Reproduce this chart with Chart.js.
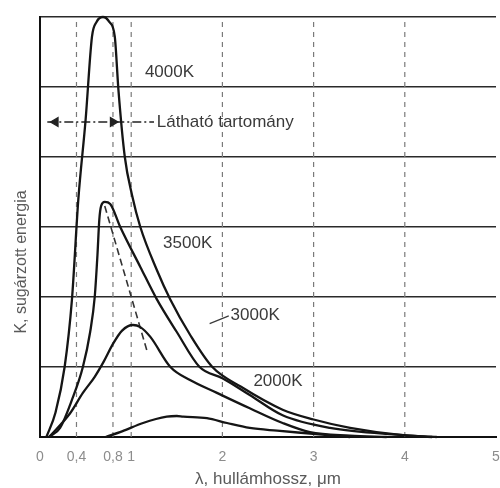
<!DOCTYPE html>
<html>
<head>
<meta charset="utf-8">
<script src="https://cdn.jsdelivr.net/npm/chart.js@4.4.0/dist/chart.umd.min.js"></script>
<style>
  html, body { margin: 0; padding: 0; background: #fff; }
</style>
</head>
<body>
<canvas id="chart" width="500" height="488"></canvas>
<script>
// tick labels on the wavelength axis
const xTicks = [0, 0.4, 0.8, 1, 2, 3, 4, 5];
const xTickText = ['0', '0,4', '0,8', '1', '2', '3', '4', '5'];
const xTitle = 'λ, hullámhossz, μm';
const yTitle = 'K, sugárzott energia';

// curve labels
const tempLabels = ['4000K', '3500K', '3000K', '2000K'];
const visibleText = 'Látható tartomány';

// 4000 K
const t4000X = [0.07, 0.17, 0.27, 0.35, 0.42, 0.50, 0.57, 0.62, 0.69, 0.76, 0.82, 0.86, 0.93, 1.01, 1.10, 1.28, 1.43, 1.65, 1.89, 2.2, 2.66, 3.0, 3.4, 3.95, 4.35];
const t4000Y = [0, 0.35, 1.0, 1.96, 3.39, 4.53, 5.72, 5.93, 6.0, 5.93, 5.72, 4.96, 4.0, 3.45, 3.0, 2.39, 1.96, 1.45, 1.0, 0.72, 0.39, 0.25, 0.13, 0.03, 0];
// 3500 K
const t3500X = [0.1, 0.22, 0.35, 0.47, 0.55, 0.6, 0.63, 0.65, 0.67, 0.71, 0.77, 0.88, 1.10, 1.28, 1.5, 1.75, 2.0, 2.3, 2.66, 3.18, 3.95, 4.3];
const t3500Y = [0, 0.13, 0.53, 1.0, 1.5, 2.0, 2.6, 3.1, 3.3, 3.36, 3.33, 3.0, 2.43, 1.97, 1.5, 1.0, 0.84, 0.6, 0.31, 0.13, 0.03, 0];
// 3000 K
const t3000X = [0.1, 0.33, 0.47, 0.6, 0.7, 0.8, 0.9, 1.02, 1.1, 1.21, 1.43, 1.65, 1.94, 2.3, 2.66, 2.96, 3.4, 3.8];
const t3000Y = [0, 0.34, 0.63, 0.86, 1.08, 1.33, 1.52, 1.6, 1.57, 1.43, 1.0, 0.81, 0.63, 0.41, 0.2, 0.07, 0.02, 0];
// 2000 K
const t2000X = [0.72, 0.9, 1.13, 1.39, 1.5, 1.57, 1.83, 2.05, 2.3, 2.6, 2.96, 3.4];
const t2000Y = [0, 0.08, 0.2, 0.29, 0.3, 0.29, 0.27, 0.2, 0.13, 0.09, 0.05, 0];

// Wien line through the peaks
const wienX = [0.71, 1.18];
const wienY = [3.3, 1.2];

// dashed vertical guides
const guideX = [0.4, 0.8, 1, 2, 3, 4];

// visible range arrow
const arrowX = [0.08, 0.17, 0.8, 1.25];
const arrowY = [4.5, 4.5, 4.5, 4.5];

const pts = (xs, ys) => xs.map((v, i) => ({ x: v, y: ys[i] }));

function curve(xs, ys) {
  return {
    data: pts(xs, ys),
    borderColor: '#151515',
    borderWidth: 2.3,
    pointRadius: 0,
    cubicInterpolationMode: 'monotone',
    fill: false,
    clip: 4,
    order: 1
  };
}

const guides = guideX.map(g => ({
  data: [{ x: g, y: 0 }, { x: g, y: 6 }],
  borderColor: '#7a7a7a',
  borderWidth: 1.2,
  borderDash: [5, 5],
  pointRadius: 0,
  order: 5
}));

// text on the plot, the y title and the 3000K leader
const notes = {
  id: 'notes',
  afterDatasetsDraw(chart) {
    const { ctx, chartArea } = chart;
    const x = chart.scales.x, y = chart.scales.y;
    const px = v => x.getPixelForValue(v);
    const py = v => y.getPixelForValue(v);
    ctx.save();
    ctx.fillStyle = '#3a3a3a';
    ctx.font = '17px "Liberation Sans", Arial, sans-serif';
    ctx.textAlign = 'left';
    ctx.textBaseline = 'middle';
    ctx.fillText(tempLabels[0], px(1.15), py(5.21));
    ctx.fillText(visibleText, px(1.28), py(4.5));
    ctx.fillText(tempLabels[1], px(1.35), py(2.77));
    ctx.fillText(tempLabels[2], px(2.09), py(1.74));
    ctx.fillText(tempLabels[3], px(2.34), py(0.79));

    // leader line
    ctx.strokeStyle = '#3a3a3a';
    ctx.lineWidth = 1.2;
    ctx.beginPath();
    ctx.moveTo(px(1.86), py(1.62));
    ctx.lineTo(px(2.07), py(1.73));
    ctx.stroke();

    // y axis title
    ctx.translate(chartArea.left - 18, py(2.5));
    ctx.rotate(-Math.PI / 2);
    ctx.textAlign = 'center';
    ctx.fillStyle = '#5a5a5a';
    ctx.font = '16px "Liberation Sans", Arial, sans-serif';
    ctx.fillText(yTitle, 0, 0);
    ctx.restore();
  }
};

const ctx = document.getElementById('chart').getContext('2d');
new Chart(ctx, {
  type: 'line',
  data: {
    datasets: [
      curve(t4000X, t4000Y),
      curve(t3500X, t3500Y),
      curve(t3000X, t3000Y),
      curve(t2000X, t2000Y),
      {
        data: pts(wienX, wienY),
        borderColor: '#333',
        borderWidth: 1.6,
        borderDash: [7, 4],
        pointRadius: 0,
        order: 3
      },
      {
        data: pts(arrowX, arrowY),
        borderColor: '#222',
        backgroundColor: '#222',
        borderWidth: 1.3,
        borderDash: [9, 3, 2, 3],
        pointStyle: 'triangle',
        pointRadius: [0, 5, 5, 0],
        pointRotation: [0, -90, 90, 0],
        order: 2
      },
      ...guides
    ]
  },
  options: {
    responsive: false,
    animation: false,
    layout: { autoPadding: false, padding: { left: 40, top: 17, right: 4, bottom: 0 } },
    plugins: {
      legend: { display: false },
      tooltip: { enabled: false }
    },
    scales: {
      x: {
        type: 'linear',
        min: 0,
        max: 5,
        afterBuildTicks: s => { s.ticks = xTicks.map(v => ({ value: v })); },
        afterFit: s => { s.height = 51; s.paddingRight = 4; s.paddingLeft = 0; },
        ticks: {
          autoSkip: false,
          maxRotation: 0,
          padding: 12,
          color: '#8c8c8c',
          font: { size: 14, family: '"Liberation Sans", Arial, sans-serif' },
          callback: (v, i) => xTickText[i]
        },
        grid: { display: false, drawTicks: false },
        border: { color: '#111', width: 2 },
        title: {
          display: true,
          text: xTitle,
          color: '#5a5a5a',
          padding: { top: 0, bottom: -2 },
          font: { size: 17, family: '"Liberation Sans", Arial, sans-serif' }
        }
      },
      y: {
        min: 0,
        max: 6,
        ticks: { display: false, stepSize: 1 },
        grid: { color: '#2a2a2a', lineWidth: 1.6, drawTicks: false },
        border: { color: '#111', width: 2 }
      }
    }
  },
  plugins: [notes]
});
</script>
</body>
</html>
